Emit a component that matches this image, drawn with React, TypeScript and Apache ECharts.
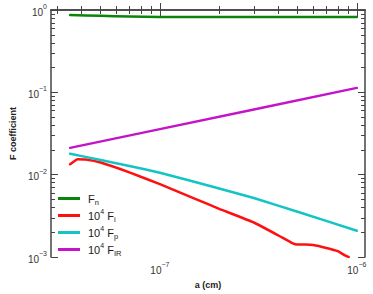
import React, { useEffect, useRef } from "react";
import * as echarts from "echarts";

// radius a (cm)
const fnA = [3.5e-8, 5e-8, 7e-8, 1e-7, 2e-7, 5e-7, 1e-6];
const fnV = [0.87, 0.85, 0.835, 0.825, 0.82, 0.82, 0.82];

const fiA = [3.5e-8, 3.82e-8, 4.2e-8, 5e-8, 7e-8, 1e-7, 1.5e-7, 2e-7, 3e-7, 4e-7, 4.7e-7, 5e-7, 5.5e-7, 6e-7, 7e-7, 8e-7, 8.7e-7, 9.1e-7];
const fiV = [0.01342, 0.0154, 0.0153, 0.01406, 0.01068, 0.00768, 0.00513, 0.00386, 0.00263, 0.00183, 0.00148, 0.00142, 0.00142, 0.0014, 0.00129, 0.00118, 0.00105, 0.001];

const fpA = [3.5e-8, 5e-8, 7e-8, 1e-7, 2e-7, 3e-7, 5e-7, 1e-6];
const fpV = [0.01802, 0.0151, 0.01277, 0.01059, 0.00682, 0.00521, 0.00355, 0.00209];

const firA = [3.5e-8, 1e-7, 3e-7, 1e-6];
const firV = [0.0212, 0.0358, 0.0621, 0.1133];

const seriesNames = ["Fn", "Fi", "Fp", "FIR"];
const seriesColors = ["#0a850a", "#ff1010", "#14c4c4", "#c414c8"];

const xMin = 2.8e-8;
const xMax = 1.1e-6;
const yMin = 1e-3;
const yMax = 1;

const xMajor = [1e-7, 1e-6];
const xMinor = [3e-8, 4e-8, 5e-8, 6e-8, 7e-8, 8e-8, 9e-8, 2e-7, 3e-7, 4e-7, 5e-7, 6e-7, 7e-7, 8e-7, 9e-7];
const yMajor = [1e-3, 1e-2, 1e-1, 1];
const yMinor = [2, 3, 4, 5, 6, 7, 8, 9].flatMap((m) => [m * 1e-3, m * 1e-2, m * 1e-1]);

const FONT = "'Liberation Sans', Arial, sans-serif";
const AXIS_COLOR = "#444";

const lg = (v: number) => Math.log10(v);

function expLabel(v: number) {
  const e = Math.round(v);
  const s = e < 0 ? "\u2212" + -e : String(e);
  return `{b|10}{s|${s}}`;
}

const labelRich = {
  b: { fontSize: 10, color: "#333", fontFamily: FONT, verticalAlign: "bottom", lineHeight: 14 },
  s: { fontSize: 7, color: "#333", fontFamily: FONT, verticalAlign: "top", lineHeight: 14 },
};

const legendRich = {
  b: { fontSize: 11, color: "#1a1a1a", fontFamily: FONT, verticalAlign: "middle", lineHeight: 15 },
  sup: { fontSize: 7, color: "#1a1a1a", fontFamily: FONT, verticalAlign: "top", lineHeight: 15 },
  sub: { fontSize: 7.5, color: "#1a1a1a", fontFamily: FONT, verticalAlign: "bottom", lineHeight: 15 },
};

const legendText: Record<string, string> = {
  Fn: "{b|F}{sub|n}",
  Fi: "{b|10}{sup|4}{b| F}{sub|i}",
  Fp: "{b|10}{sup|4}{b| F}{sub|p}",
  FIR: "{b|10}{sup|4}{b| F}{sub|IR}",
};

function makeXAxis(pos: "bottom" | "top", major: boolean, main: boolean) {
  return {
    type: "value",
    position: pos,
    min: lg(xMin),
    max: lg(xMax),
    axisLine: { show: main, lineStyle: { color: AXIS_COLOR, width: 1.5 } },
    axisTick: {
      show: true,
      inside: true,
      length: major ? 7 : 4,
      customValues: (major ? xMajor : xMinor).map(lg),
      lineStyle: { color: AXIS_COLOR, width: 1 },
    },
    axisLabel: {
      show: main && pos === "bottom",
      customValues: xMajor.map(lg),
      formatter: (v: number) => expLabel(v),
      rich: labelRich,
      margin: 4,
    },
    splitLine: { show: false },
    name: main && pos === "bottom" ? "a (cm)" : "",
    nameLocation: "middle",
    nameGap: 22,
    nameTextStyle: { fontSize: 9, fontWeight: "bold", color: "#222", fontFamily: FONT },
  };
}

function makeYAxis(pos: "left" | "right", major: boolean, main: boolean) {
  return {
    type: "value",
    position: pos,
    min: lg(yMin),
    max: lg(yMax),
    axisLine: { show: main, lineStyle: { color: AXIS_COLOR, width: 1.5 } },
    axisTick: {
      show: true,
      inside: true,
      length: major ? 7 : 4,
      customValues: (major ? yMajor : yMinor).map(lg),
      lineStyle: { color: AXIS_COLOR, width: 1 },
    },
    axisLabel: {
      show: main && pos === "left",
      customValues: yMajor.map(lg),
      formatter: (v: number) => expLabel(v),
      rich: labelRich,
      margin: 4,
    },
    splitLine: { show: false },
    name: main && pos === "left" ? "F coefficient" : "",
    nameLocation: "middle",
    nameGap: 32,
    nameTextStyle: { fontSize: 9, fontWeight: "bold", color: "#222", fontFamily: FONT },
  };
}

export default function App() {
  const ref = useRef<HTMLDivElement>(null);
  useEffect(() => {
    if (!ref.current) return;
    const chart = echarts.init(ref.current, undefined, { renderer: "svg" });
    const sets = [
      [fnA, fnV],
      [fiA, fiV],
      [fpA, fpV],
      [firA, firV],
    ];
    chart.setOption({
      animation: false,
      textStyle: { fontFamily: FONT },
      grid: { left: 44, right: 8, top: 10, bottom: 33 },
      xAxis: [
        makeXAxis("bottom", true, true),
        makeXAxis("bottom", false, false),
        makeXAxis("top", true, true),
        makeXAxis("top", false, false),
      ],
      yAxis: [
        makeYAxis("left", true, true),
        makeYAxis("left", false, false),
        makeYAxis("right", true, true),
        makeYAxis("right", false, false),
      ],
      legend: {
        orient: "vertical",
        left: 53,
        top: 188,
        icon: "rect",
        itemWidth: 22,
        itemHeight: 3,
        itemGap: 2,
        data: seriesNames,
        formatter: (n: string) => legendText[n],
        textStyle: { rich: legendRich, padding: [0, 0, 0, 3] },
      },
      series: sets.map(([a, v], i) => ({
        name: seriesNames[i],
        type: "line",
        xAxisIndex: 0,
        yAxisIndex: 0,
        showSymbol: false,
        symbol: "none",
        smooth: i === 3 ? false : 0.1,
        lineStyle: { color: seriesColors[i], width: 2.5, join: "round", cap: "round" },
        itemStyle: { color: seriesColors[i] },
        data: a.map((x, j) => [lg(x), lg(v[j])]),
      })),
    });
    return () => chart.dispose();
  }, []);
  return (
    <div
      ref={ref}
      style={{ position: "absolute", left: 0, top: 0, width: 373, height: 294 }}
    />
  );
}
